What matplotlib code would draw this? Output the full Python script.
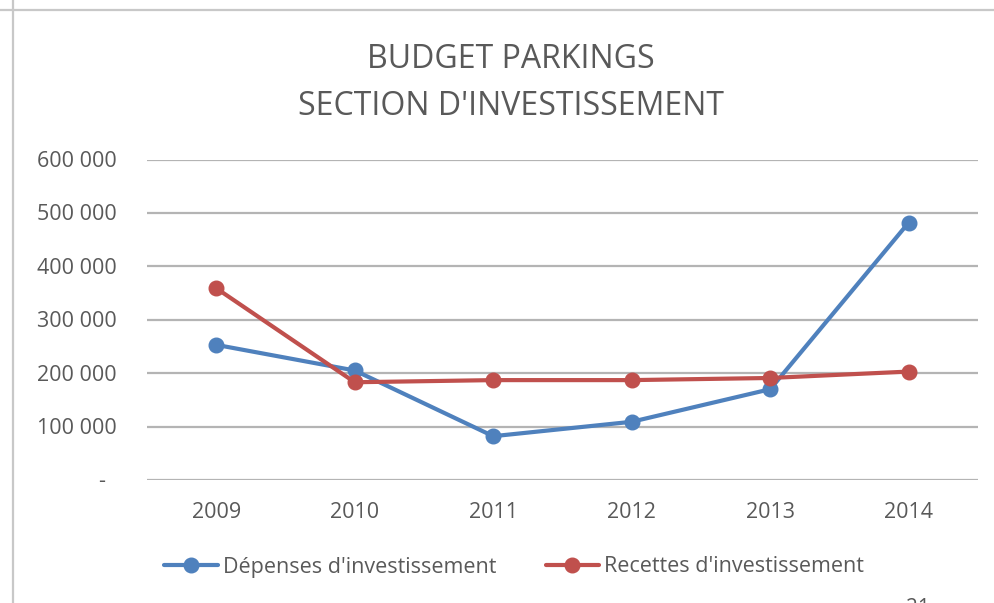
import matplotlib
matplotlib.use("Agg")
import matplotlib.pyplot as plt
from matplotlib.lines import Line2D
import matplotlib.transforms as mtransforms

years = ["2009", "2010", "2011", "2012", "2013", "2014"]
depenses = [253000, 205000, 82000, 109000, 170000, 482000]
recettes = [359000, 183000, 187000, 187000, 191000, 203000]
yticks = [0, 100000, 200000, 300000, 400000, 500000, 600000]
ytick_labels = ["-", "100 000", "200 000", "300 000", "400 000", "500 000", "600 000"]

FONT = ["Open Sans", "DejaVu Sans"]
plt.rcParams["font.family"] = FONT
TXT = "#595959"
BLUE = "#4F81BD"
RED = "#C0504D"
GRID = "#B4B4B4"
TICK_FS = 15.5

fig = plt.figure(figsize=(9.94, 6.03), dpi=100)
W, H = 994, 603
ax = fig.add_axes([147 / W, 1 - 480 / H, (978 - 147) / W, (480 - 159.5) / H])

x = list(range(len(years)))
ax.plot(x, depenses, color=BLUE, lw=3.0, marker="o", ms=10.5, solid_capstyle="round",
        label="Dépenses d'investissement", zorder=3)
ax.plot(x, recettes, color=RED, lw=3.0, marker="o", ms=10.5, solid_capstyle="round",
        label="Recettes d'investissement", zorder=4)

ax.set_xlim(-0.5, len(years) - 0.5)
ax.set_ylim(0, 600000)
ax.set_yticks(yticks)
ax.set_yticklabels([])
ax.tick_params(axis="y", length=0)
ax.set_xticks(x)
ax.set_xticklabels(years, color=TXT, fontsize=TICK_FS)
ax.tick_params(axis="x", length=0, pad=27.5)
for lab in ax.get_xticklabels():
    lab.set_va("baseline")
for s in ax.spines.values():
    s.set_visible(False)
ax.grid(axis="y", color=GRID, lw=1.6)
ax.set_axisbelow(True)

trans = mtransforms.blended_transform_factory(fig.transFigure, ax.transData)
shift = mtransforms.ScaledTranslation(0, -7.5 / 100, fig.dpi_scale_trans)
for v, lab in zip(yticks, ytick_labels):
    xpos = 117 / W if lab != "-" else 105 / W
    ax.text(xpos, v, lab, transform=trans + shift, ha="right", va="baseline",
            color=TXT, fontsize=TICK_FS)

fig.text(511 / W, 1 - 68.5 / H, "BUDGET PARKINGS", ha="center", va="baseline",
         color=TXT, fontsize=23)
fig.text(511 / W, 1 - 115 / H, "SECTION D'INVESTISSEMENT", ha="center", va="baseline",
         color=TXT, fontsize=23)

leg = fig.legend(loc="center", bbox_to_anchor=(514 / W, 1 - 567 / H), ncol=2,
                 frameon=False, fontsize=15.5, handlelength=2.5, handletextpad=0.2,
                 columnspacing=2.3, labelcolor=TXT)

# sheet frame lines
fig.add_artist(Line2D([0, 993 / W], [1 - 10 / H, 1 - 10 / H], color="#C8C8C8", lw=1.6,
                      transform=fig.transFigure))
fig.add_artist(Line2D([13 / W, 13 / W], [0, 1], color="#C8C8C8", lw=1.6,
                      transform=fig.transFigure))
fig.text(918 / W, 1 - 598 / H, "21", ha="center", va="top", color=TXT, fontsize=15)

fig.savefig("out.png", dpi=100)
